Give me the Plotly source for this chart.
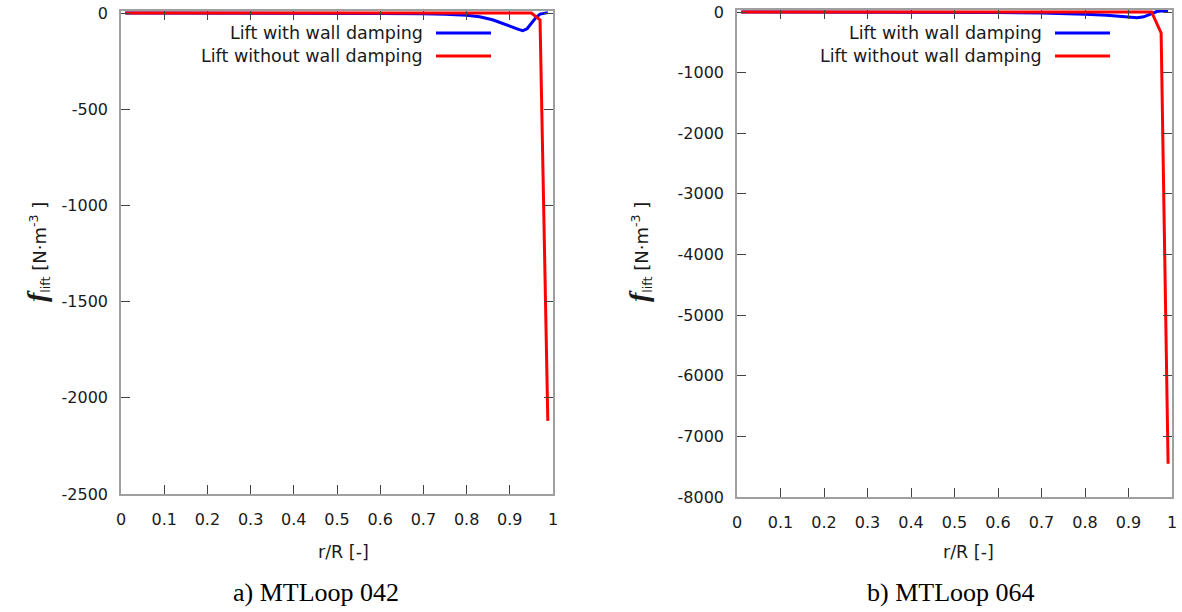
import plotly.graph_objects as go

# ---- data -----------------------------------------------------------------
# MTLoop 042
r_042_damped = [0.01, 0.1, 0.2, 0.3, 0.4, 0.5, 0.6, 0.7, 0.75, 0.8, 0.83, 0.86,
                0.88, 0.9, 0.92, 0.93, 0.94, 0.95, 0.96, 0.97, 0.988]
f_042_damped = [0, 0, 0, 0, -0.5, -1, -2, -4, -6, -12, -20, -35,
                -50, -68, -85, -92, -82, -55, -25, -6, 2]
r_042_undamped = [0.01, 0.2, 0.4, 0.6, 0.8, 0.9, 0.95, 0.97, 0.988]
f_042_undamped = [0, 0, 0, 0, 0, 0, 0, -36, -2120]

# MTLoop 064
r_064_damped = [0.01, 0.2, 0.4, 0.5, 0.6, 0.7, 0.75, 0.8, 0.85, 0.88, 0.9,
                0.92, 0.935, 0.945, 0.955, 0.965, 0.975, 0.991]
f_064_damped = [0, 0, -1, -3, -8, -18, -25, -38, -55, -75, -90,
                -95, -80, -55, -20, 8, 18, 20]
r_064_undamped = [0.01, 0.2, 0.4, 0.6, 0.8, 0.9, 0.953, 0.975, 0.991]
f_064_undamped = [0, 0, 0, 0, 0, 0, 0, -346, -7450]

x_ticks = [0, 0.1, 0.2, 0.3, 0.4, 0.5, 0.6, 0.7, 0.8, 0.9, 1]
x_ticktext = ["0", "0.1", "0.2", "0.3", "0.4", "0.5", "0.6", "0.7", "0.8", "0.9", "1"]
y_ticks_042 = [0, -500, -1000, -1500, -2000, -2500]
y_ticks_064 = [0, -1000, -2000, -3000, -4000, -5000, -6000, -7000, -8000]

label_damped = "Lift with wall damping"
label_undamped = "Lift without wall damping"
captions = ["a) MTLoop 042", "b) MTLoop 064"]

# ---- page geometry (pixels) ----------------------------------------------
W, H = 1182, 612
SANS = "DejaVu Sans"
SERIF = "Liberation Serif"
TXT = "#1a1a1a"
BLUE = "#0000ff"
RED = "#ff0000"


def px(v):
    return v / W


def py(v):
    return 1 - v / H


# panel boxes: left/right pixel of x=0..1, pixel of y=0 and y=ymin,
# plus centres of the axis titles and the caption
panels = [
    dict(x0=121, x1=553, y0=13, y1=494, ymin=-2500, ticks=y_ticks_042,
         xtitle_x=343, ytitle_x=37, caption_x=316),
    dict(x0=737, x1=1172, y0=12, y1=497, ymin=-8000, ticks=y_ticks_064,
         xtitle_x=968, ytitle_x=639, caption_x=951),
]
PAD = 2  # px of headroom above zero so the zero-level line is not clipped

fig = go.Figure()

series = [
    (r_042_damped, f_042_damped, r_042_undamped, f_042_undamped),
    (r_064_damped, f_064_damped, r_064_undamped, f_064_undamped),
]

annotations = []
shapes = []

ytitle = ('<span style="font-family:Liberation Serif;font-size:28px">'
          '<b><i>f</i></b></span><sub>lift</sub> [N·m<sup>-3</sup> ]')

for i, (p, (rb, fb, rr, fr)) in enumerate(zip(panels, series)):
    suffix = "" if i == 0 else str(i + 1)
    xa, ya = "x" + suffix, "y" + suffix
    scale = (p["y1"] - p["y0"]) / (-p["ymin"])  # px per unit
    ytop = PAD / scale

    fig.add_trace(go.Scatter(x=rb, y=fb, mode="lines", xaxis=xa, yaxis=ya,
                             line=dict(color=BLUE, width=3), showlegend=False))
    fig.add_trace(go.Scatter(x=rr, y=fr, mode="lines", xaxis=xa, yaxis=ya,
                             line=dict(color=RED, width=3), showlegend=False))

    axis_common = dict(showline=True, linecolor="#a0a0a0", linewidth=1.5,
                       mirror="ticks", ticks="inside", ticklen=9, tickwidth=1,
                       tickcolor="#444444", showgrid=False, zeroline=False,
                       automargin=False,
                       tickfont=dict(family=SANS, size=16, color=TXT))

    fig.layout["xaxis" + suffix] = dict(
        domain=[px(p["x0"]), px(p["x1"])], range=[0, 1], anchor=ya,
        tickvals=x_ticks, ticktext=x_ticktext, ticklabelstandoff=10,
        **axis_common)
    fig.layout["yaxis" + suffix] = dict(
        domain=[py(p["y1"]), py(p["y0"] - PAD)], range=[p["ymin"], ytop],
        anchor=xa, tickvals=p["ticks"],
        ticktext=[str(v) for v in p["ticks"]],
        ticklabelstandoff=8, **axis_common)

    # axis titles
    annotations.append(dict(
        xref="paper", yref="paper", x=px(p["xtitle_x"]), y=py(552),
        xanchor="center", yanchor="middle", showarrow=False, text="r/R [-]",
        font=dict(family=SANS, size=17.5, color=TXT)))
    annotations.append(dict(
        xref="paper", yref="paper", x=px(p["ytitle_x"]), y=py(252),
        xanchor="center", yanchor="middle", showarrow=False, textangle=-90,
        text=ytitle, font=dict(family=SANS, size=18, color=TXT)))
    annotations.append(dict(
        xref="paper", yref="paper", x=px(p["caption_x"]), y=py(592),
        xanchor="center", yanchor="middle", showarrow=False, text=captions[i],
        font=dict(family=SERIF, size=26, color="#000000")))

    # key, text on the left and line sample on the right
    for row, (lab, col) in enumerate([(label_damped, BLUE), (label_undamped, RED)]):
        yy = 33 + 23 * row
        annotations.append(dict(
            xref="paper", yref="paper", x=px(p["x1"] - 128), y=py(yy),
            xanchor="right", yanchor="middle", showarrow=False, text=lab,
            font=dict(family=SANS, size=17.5, color=TXT)))
        shapes.append(dict(
            type="line", xref="paper", yref="paper",
            x0=px(p["x1"] - 117), x1=px(p["x1"] - 62), y0=py(yy), y1=py(yy),
            line=dict(color=col, width=3)))

fig.update_layout(
    width=W, height=H, margin=dict(l=0, r=0, t=0, b=0),
    paper_bgcolor="white", plot_bgcolor="white",
    annotations=annotations, shapes=shapes, showlegend=False,
)

fig.write_html("out.html")
